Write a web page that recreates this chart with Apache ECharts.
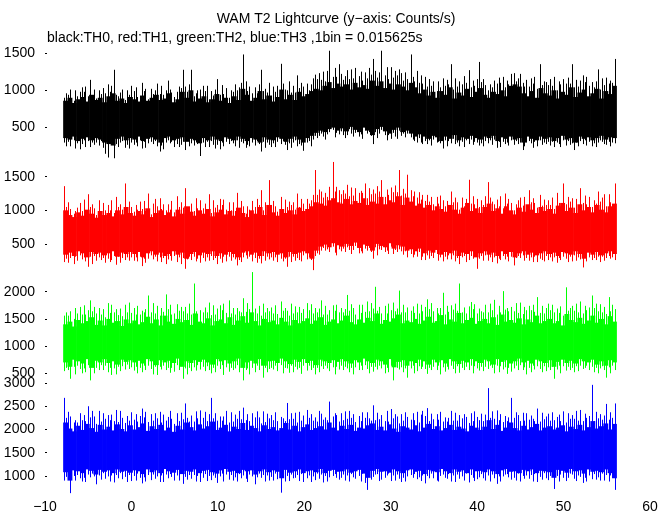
<!DOCTYPE html>
<html><head><meta charset="utf-8">
<script src="https://cdn.jsdelivr.net/npm/echarts@6/dist/echarts.min.js"></script>
<style>html,body{margin:0;padding:0;background:#fff}#c{width:672px;height:515px}</style>
</head><body><div id="c"></div>
<script>
// time of first bin (s) and width of each read bin (s)
const tStart = -7.9;
const binStep = 0.5;
const xTicks = [-10, 0, 10, 20, 30, 40, 50, 60];

// TH0 (black): per bin two spike highs / lows and solid-band top / bottom (counts/s)
const th0High = [900,1010,860,980,1040,920,1140,890,1000,960,1080,1275,940,1010,870,1060,
 990,930,1100,880,1020,1090,950,1000,1130,910,980,1275,1050,1275,920,1010,
 1060,880,990,1150,940,1030,900,1080,1000,1480,1120,960,1040,1275,990,1100,
 930,1060,1355,1000,1120,970,1200,1050,1090,1160,1210,1140,1250,1530,1180,1350,
 1220,1270,1150,1300,1190,1240,1160,1420,1260,1530,1200,1310,1170,1280,1230,1150,
 1480,1260,1100,1180,1050,1120,990,1160,1060,1350,1010,1120,1080,1270,1040,1150,
 1380,1070,1000,1130,1090,1180,1040,1220,1230,1220,1100,1050,1160,1020,1350,1110,
 1070,1180,1000,1150,1090,1350,1040,1130,1200,1060,1110,1280,1010,1170,1090,1420];
const th0Low = [300,250,330,210,280,320,240,300,260,150,100,90,280,320,230,300,
 270,330,220,290,310,250,180,300,330,240,280,310,200,290,260,120,
 300,240,320,270,210,310,280,250,330,290,230,300,260,180,310,270,
 240,310,280,200,290,330,250,190,300,340,390,420,380,440,470,410,
 450,400,480,430,380,460,420,280,440,470,400,350,430,460,390,420,
 370,300,360,320,280,340,300,220,330,290,350,250,310,280,340,300,
 260,320,290,340,230,310,280,330,270,300,200,320,290,250,330,280,
 310,240,300,330,260,290,200,320,280,310,250,300,330,270,310,290];
const th0High2 = [960,940,1000,920,980,1050,900,1010,950,1030,980,1060,920,970,1000,940,
 1040,910,990,1020,950,1000,1060,940,1010,970,1050,1030,980,1080,960,1000,
 990,1060,930,1010,1070,950,1000,980,1040,1100,990,1050,960,1080,1020,970,
 1050,980,1090,1010,970,1060,1030,1100,1000,1080,1150,1230,1120,1260,1300,1180,
 1140,1190,1280,1160,1250,1130,1300,1210,1170,1240,1310,1150,1260,1200,1130,1240,
 1180,1120,1200,1090,1150,1060,1120,1040,1140,1080,1160,1050,1190,1100,1130,1060,
 1110,1150,1080,1040,1170,1100,1130,1080,1120,1160,1050,1140,1090,1180,1070,1120,
 1150,1060,1120,1080,1170,1090,1140,1050,1110,1180,1040,1120,1160,1070,1130,1100];
const th0Low2 = [250,310,220,290,330,240,300,270,320,230,300,280,240,300,270,220,
 300,250,310,230,280,320,260,210,290,310,240,270,320,250,300,280,
 240,310,270,220,300,250,320,290,230,310,270,250,320,280,230,300,
 290,240,320,270,230,300,280,260,320,250,360,390,340,410,370,430,
 400,360,420,380,410,350,440,390,360,420,330,400,380,350,420,370,
 340,320,300,280,330,260,310,290,250,320,280,300,240,330,270,310,
 290,250,330,270,310,240,300,260,320,280,250,300,230,310,270,300,
 260,310,280,240,320,270,300,250,330,260,290,240,310,280,250,300];
const th0Top = [860,900,830,880,910,850,940,870,900,840,920,960,860,890,830,910,
 880,850,930,860,900,940,870,890,960,840,880,980,900,1000,850,890,
 920,840,880,950,860,900,830,920,870,1020,940,860,900,990,880,930,
 850,910,1010,880,940,870,980,920,950,990,1020,1000,1060,1110,1030,1090,
 1050,1080,1010,1100,1040,1070,1020,1130,1060,1120,1030,1090,1010,1080,1050,1000,
 1100,1040,960,1010,930,980,900,990,940,1040,890,970,930,1020,910,980,
 1030,940,900,980,950,1000,920,1060,1080,1050,960,920,990,900,1030,960,
 930,1000,890,980,940,1040,910,970,1010,920,960,1020,890,990,950,1060];
const th0Bot = [360,340,380,320,350,370,330,360,340,300,280,260,350,380,330,360,
 340,380,320,350,370,340,300,360,380,330,350,370,310,350,330,290,
 360,330,380,340,320,370,350,330,380,350,320,360,340,300,370,340,
 330,370,350,310,350,380,340,300,360,390,430,460,440,480,500,460,
 490,450,510,470,440,500,460,400,480,510,450,420,470,500,440,460,
 420,380,410,380,350,390,370,320,380,350,400,330,370,350,390,360,
 340,380,360,390,320,370,350,380,340,360,300,380,350,330,380,350,
 370,320,360,390,340,360,300,380,350,370,330,360,390,340,370,360];

// TH1 (red)
const th1High = [1360,1020,950,1110,990,1240,1050,930,1150,1000,1080,960,1200,1010,1400,1050,
 980,1130,1020,1250,940,1060,1180,1000,1090,970,1210,1040,1330,1100,990,1150,
 1030,1240,960,1080,1170,1010,1120,990,1260,1060,950,1140,1050,1300,1000,1450,
 1080,980,1200,1050,1130,1010,1250,1100,1170,1230,1600,1280,1190,1350,1720,1300,
 1240,1380,1210,1330,1260,1400,1180,1310,1250,1450,1200,1340,1270,1600,1220,1530,
 1300,1190,1270,1140,1230,1090,1200,1150,1060,1280,1120,1010,1190,1455,1100,1170,
 1050,1210,1420,1090,1160,1030,1250,1110,1000,1190,1070,1300,1120,1040,1230,1080,
 1150,1020,1260,1400,1090,1180,1040,1330,1110,1200,1050,1280,1130,1060,1240,1400];
const th1Low = [230,290,200,330,270,160,310,250,300,220,280,320,190,290,260,300,
 250,310,170,280,330,240,300,200,270,320,230,290,130,260,310,220,
 290,250,320,200,280,240,310,270,180,300,330,240,290,210,320,270,
 300,230,280,160,310,250,290,330,270,110,320,400,440,380,460,420,
 390,450,410,470,360,430,400,280,450,410,380,460,350,420,390,300,
 350,310,380,260,330,290,350,240,310,270,330,200,300,260,320,130,
 280,330,250,300,210,320,270,310,180,290,330,250,300,230,280,320,
 260,300,220,310,280,240,330,270,150,300,260,310,230,290,320,260];
const th1High2 = [1050,1120,990,1040,1160,1000,1090,1030,960,1110,1000,1150,1050,1090,980,1130,
 1080,1010,1140,990,1100,1170,1020,1090,1010,1140,1050,1120,990,1060,1180,1030,
 1100,990,1150,1040,1080,1160,1000,1120,990,1140,1060,1010,1170,1080,1120,1030,
 1140,1060,1010,1160,1080,1120,1050,1170,1100,1150,1230,1310,1260,1200,1280,1350,
 1300,1250,1340,1220,1290,1260,1330,1240,1360,1280,1310,1230,1370,1270,1320,1250,
 1210,1280,1160,1230,1130,1200,1100,1220,1140,1080,1190,1120,1060,1170,1210,1090,
 1150,1080,1190,1130,1060,1210,1100,1170,1090,1150,1200,1040,1180,1110,1070,1160,
 1080,1190,1110,1050,1200,1130,1170,1060,1220,1090,1150,1100,1190,1240,1120,1080];
const th1Low2 = [280,220,310,250,300,240,200,320,260,290,230,260,310,220,300,250,
 300,240,280,220,270,310,230,290,320,250,300,200,270,310,240,280,
 240,300,260,290,220,310,250,300,260,230,280,310,220,280,250,310,
 250,300,240,280,230,310,260,240,300,260,360,340,400,420,370,330,
 430,380,350,410,390,360,440,380,330,420,400,350,410,380,340,390,
 300,340,260,310,280,320,250,300,270,330,240,290,320,230,280,310,
 320,250,300,230,280,260,310,240,290,320,250,290,230,310,260,240,
 300,240,290,260,230,310,250,300,320,240,290,260,310,250,280,300];
const th1Top = [1000,930,900,970,920,1010,950,890,990,930,960,910,1000,940,1050,960,
 920,990,940,1030,900,960,1000,930,970,910,1010,950,1060,980,920,1000,
 950,1020,910,970,1010,940,990,920,1040,960,900,1000,950,1050,930,1080,
 970,920,1020,960,1000,940,1040,990,1020,1060,1120,1100,1070,1150,1180,1120,
 1100,1170,1090,1140,1110,1180,1080,1130,1100,1200,1090,1150,1120,1210,1080,1190,
 1130,1070,1100,1040,1080,1000,1060,1020,980,1080,1010,950,1040,1110,990,1030,
 960,1050,1100,990,1030,950,1060,1000,940,1040,980,1090,1010,960,1050,990,
 1020,950,1070,1110,990,1040,960,1090,1000,1050,970,1080,1010,970,1060,1100];
const th1Bot = [340,370,320,390,360,300,380,350,370,330,360,390,310,370,350,380,
 350,380,300,360,390,340,370,320,350,390,340,370,280,350,380,330,
 370,350,390,320,360,340,380,350,300,370,390,340,370,320,390,360,
 380,340,360,300,380,350,370,390,360,280,400,460,490,450,510,480,
 460,500,470,520,440,490,470,400,500,470,450,510,430,480,460,400,
 420,390,430,360,400,370,410,340,380,360,400,320,370,350,390,300,
 360,390,340,370,320,390,350,380,300,360,390,340,370,330,360,390,
 350,370,320,380,360,340,390,350,280,370,340,380,330,360,390,350];

// TH2 (green)
const th2High = [1560,1640,1500,1720,1580,1660,1840,1600,1700,1530,1790,1620,1680,1550,1760,1610,
 1700,1580,1650,1930,1620,1740,1560,1950,1680,1600,1770,1640,1720,1580,2150,1660,
 1620,1800,1570,1690,1750,1610,1840,1580,1700,1880,1630,2360,1690,1560,1780,1640,
 1710,1590,1820,1650,1560,1730,1620,1680,1790,1600,1700,1840,1580,1660,1750,1620,
 1700,1940,1650,1580,1760,1630,1820,1690,2090,1600,1740,1660,1800,2020,1620,1710,
 1650,1780,1600,1720,1860,1640,1700,1980,1580,1750,1670,2150,1620,1730,1810,1600,
 1690,1760,1620,1850,1580,2010,1670,1720,1640,1800,1590,1740,1660,1900,1610,1700,
 1780,1620,1690,1560,2080,1740,1650,1820,1600,1710,1930,1640,1770,1590,1900,1680];
const th2Low = [540,400,620,580,500,650,370,600,560,640,520,590,480,630,570,610,
 550,600,520,640,580,470,620,560,600,530,650,400,590,540,610,570,
 620,560,500,640,580,610,530,590,650,370,560,600,520,640,420,580,
 600,540,650,590,510,620,570,640,550,600,480,630,580,540,610,570,
 640,590,520,610,560,650,580,530,620,590,500,640,370,570,610,420,
 590,540,630,580,490,620,560,610,530,640,580,510,600,560,640,590,
 550,620,580,500,640,570,610,530,590,650,560,600,520,630,580,540,
 610,400,570,630,550,600,520,640,580,560,620,500,590,420,610,560];
const th2High2 = [1620,1560,1700,1600,1750,1580,1640,1720,1580,1680,1610,1760,1570,1690,1620,1800,
 1580,1740,1620,1680,1790,1600,1700,1630,1760,1580,1650,1720,1600,1780,1640,1590,
 1710,1620,1750,1580,1660,1780,1600,1700,1640,1620,1790,1680,1600,1740,1620,1700,
 1600,1750,1650,1700,1780,1600,1720,1610,1660,1770,1620,1690,1740,1580,1650,1760,
 1620,1680,1770,1700,1610,1760,1640,1790,1650,1720,1600,1780,1640,1690,1760,1620,
 1730,1610,1760,1640,1680,1790,1600,1700,1740,1630,1780,1650,1710,1600,1680,1770,
 1640,1620,1780,1660,1740,1620,1700,1640,1790,1610,1720,1660,1760,1630,1740,1600,
 1660,1760,1610,1730,1650,1700,1780,1620,1740,1660,1700,1780,1620,1720,1640,1760];
const th2Low2 = [600,560,480,640,590,520,620,500,650,560,600,470,620,540,660,580,
 620,500,640,560,480,620,570,640,510,600,560,630,480,600,550,650,
 540,630,600,520,650,470,600,560,520,630,590,480,640,560,600,520,
 570,640,500,600,640,520,600,490,640,560,600,520,640,590,480,620,
 560,620,600,480,640,560,500,620,570,640,600,520,620,600,520,590,
 640,500,580,620,600,560,640,480,620,570,500,630,560,620,500,630,
 620,540,640,600,520,630,490,600,640,560,610,480,640,570,520,630,
 560,620,640,500,620,560,630,540,600,640,520,600,630,560,500,640];
const th2Top = [1400,1450,1360,1480,1420,1460,1530,1390,1470,1380,1500,1430,1460,1370,1490,1420,
 1470,1400,1440,1540,1420,1490,1380,1560,1450,1410,1500,1440,1480,1390,1600,1450,
 1420,1510,1380,1460,1490,1420,1530,1390,1470,1550,1430,1620,1460,1380,1500,1440,
 1470,1400,1520,1450,1380,1480,1420,1460,1510,1410,1470,1530,1390,1450,1490,1420,
 1470,1560,1440,1400,1490,1430,1520,1460,1600,1410,1480,1450,1510,1580,1420,1470,
 1440,1500,1410,1470,1540,1430,1460,1570,1400,1490,1450,1610,1420,1480,1520,1410,
 1460,1500,1420,1530,1390,1580,1450,1480,1430,1510,1400,1490,1440,1560,1420,1460,
 1500,1420,1460,1380,1590,1480,1440,1520,1410,1470,1560,1430,1500,1400,1550,1450];
const th2Bot = [700,620,750,720,680,760,600,730,700,760,690,720,660,750,710,740,
 700,730,680,760,720,650,740,700,730,690,770,620,720,690,740,710,
 750,700,660,760,720,740,680,720,770,600,700,730,680,760,640,720,
 730,690,770,720,670,750,710,760,690,730,650,750,720,690,740,710,
 760,720,680,740,700,770,720,690,750,720,660,760,610,710,740,640,
 720,690,750,720,660,750,700,740,680,760,720,670,730,700,760,720,
 690,750,720,660,760,710,740,680,720,770,700,730,680,750,720,690,
 740,620,710,750,690,730,680,760,720,700,750,660,720,640,740,700];

// TH3 (blue)
const th3High = [2680,2280,2150,2350,2200,2500,2260,2120,2400,2230,2310,2180,2420,2250,2140,2370,
 2210,2290,2450,2160,2330,2240,2380,2190,2270,2120,2350,2220,2560,2300,2170,2410,
 2250,2330,2680,2190,2280,2400,2150,2320,2230,2470,2200,2350,2260,2130,2390,2240,
 2310,2180,2270,2570,2220,2360,2150,2300,2420,2190,2260,2340,2210,2600,2280,2170,
 2350,2230,2400,2160,2290,2250,2370,2520,2200,2310,2180,2440,2240,2130,2330,2270,
 2210,2380,2150,2290,2460,2220,2330,2170,2260,2400,2190,2310,2240,2140,2350,2270,
 2200,2320,2890,2230,2410,2160,2290,2680,2250,2180,2360,2210,2300,2450,2170,2280,
 2340,2200,2270,2390,2150,2310,2230,2420,2180,2290,2960,2240,2330,2550,2210,2560];
const th3Low = [900,630,1000,950,880,1030,970,820,1010,940,990,860,1020,930,980,890,
 1000,960,840,1020,910,990,870,1030,950,900,1010,830,980,940,1020,870,
 960,1000,910,850,990,1030,920,970,880,1010,940,990,820,960,1020,900,
 980,930,640,1000,890,960,1020,870,950,990,910,1030,860,970,1000,920,
 960,1010,880,940,1000,850,700,980,1030,920,960,890,1010,940,870,990,
 1020,930,970,840,1000,950,900,1030,960,880,1010,940,990,860,1020,930,
 970,900,1010,950,830,990,1030,920,960,880,1000,940,1020,870,980,950,
 910,720,1000,960,890,1030,940,980,850,1010,930,970,900,1020,880,700];
const th3High2 = [2250,2380,2200,2150,2310,2180,2400,2280,2170,2350,2200,2320,2160,2400,2290,2190,
 2330,2170,2260,2380,2190,2350,2150,2320,2400,2230,2180,2360,2250,2170,2390,2240,
 2380,2180,2240,2350,2190,2280,2370,2170,2400,2220,2330,2180,2390,2260,2160,2340,
 2200,2370,2240,2180,2350,2230,2380,2190,2250,2330,2170,2400,2260,2200,2350,2310,
 2200,2390,2250,2330,2180,2370,2240,2190,2360,2220,2400,2170,2330,2280,2190,2370,
 2350,2200,2320,2400,2180,2340,2210,2380,2170,2250,2360,2190,2330,2270,2180,2390,
 2340,2180,2250,2390,2200,2330,2180,2260,2370,2310,2190,2350,2230,2180,2360,2220,
 2190,2370,2320,2180,2350,2230,2400,2190,2340,2250,2180,2380,2210,2300,2370,2250];
const th3Low2 = [980,1040,900,1020,960,870,1050,990,920,1060,880,1010,950,1060,870,1020,
 900,1050,970,880,1030,940,1010,870,1040,980,900,1060,920,1020,880,1000,
 1040,890,1010,960,1050,880,1020,900,1040,950,870,1030,970,1050,880,1010,
 900,1050,1000,880,1030,950,890,1040,1010,870,1050,940,1000,880,1040,960,
 1030,900,1040,970,880,1050,1000,920,1040,890,1010,1050,900,1030,960,880,
 960,1040,890,1010,950,1050,880,1000,940,1040,870,1030,900,1050,960,890,
 1040,950,880,1030,990,880,1040,970,900,1050,940,1010,880,1040,920,1060,
 1000,1040,880,1030,960,1050,890,1010,960,880,1040,920,1050,900,1010,1040];
const th3Top = [2150,2020,1960,2080,1990,2120,2030,1950,2100,2000,2060,1980,2110,2010,1960,2090,
 2000,2050,2130,1970,2070,2010,2100,1980,2040,1950,2080,2000,2150,2050,1980,2110,
 2020,2070,2170,1990,2040,2100,1960,2060,2010,2140,1990,2080,2030,1960,2090,2010,
 2050,1980,2030,2140,2000,2080,1960,2050,2110,1990,2030,2070,2000,2150,2040,1980,
 2080,2010,2100,1970,2040,2020,2090,2130,1990,2060,1980,2110,2020,1950,2070,2040,
 2000,2090,1960,2040,2120,2010,2070,1980,2030,2100,1990,2060,2020,1960,2080,2040,
 1990,2060,2200,2010,2100,1970,2040,2150,2030,1980,2080,2000,2050,2120,1980,2040,
 2070,2000,2040,2090,1960,2060,2010,2100,1980,2050,2180,2020,2070,2130,2000,2120];
const th3Bot = [1080,900,1120,1100,1060,1140,1110,1030,1130,1090,1120,1060,1140,1090,1110,1070,
 1120,1100,1040,1140,1080,1120,1060,1150,1100,1070,1130,1040,1110,1090,1140,1060,
 1110,1130,1080,1050,1120,1150,1090,1110,1060,1130,1100,1120,1030,1100,1140,1080,
 1120,1090,950,1130,1070,1100,1140,1060,1100,1120,1080,1150,1060,1110,1130,1090,
 1100,1140,1070,1100,1130,1050,960,1110,1150,1090,1100,1070,1140,1100,1060,1120,
 1140,1090,1110,1040,1130,1100,1080,1150,1100,1060,1140,1090,1120,1060,1140,1100,
 1110,1080,1140,1100,1040,1120,1150,1090,1100,1060,1130,1100,1140,1060,1110,1100,
 1080,960,1130,1110,1070,1150,1100,1120,1050,1140,1090,1110,1080,1140,1060,950];

// y tick values per panel
const yTicks0 = [500, 1000, 1500];
const yTicks1 = [500, 1000, 1500];
const yTicks2 = [500, 1000, 1500, 2000];
const yTicks3 = [1000, 1500, 2000, 2500, 3000];

function rows(hi, lo, hi2, lo2, top, bot) {
  return hi.map((h, i) => [tStart + i * binStep, lo[i], h, bot[i], top[i], lo2[i], hi2[i]]);
}

const FONT = 'Liberation Sans';
const SPIKE_POS = [0.2, 0.6, 0.4, 0.8, 0.3, 0.7];
const PANEL_H = 112;
// the green panel's lowest label is placed as text (the axis drops it), so it is
// left out of that axis's own label list to avoid drawing it twice
const panels = [
  {top: 47, min: 80, max: 1580, ticks: yTicks0, labels: yTicks0, color: '#000000',
   d: rows(th0High, th0Low, th0High2, th0Low2, th0Top, th0Bot)},
  {top: 159, min: 97, max: 1764, ticks: yTicks1, labels: yTicks1, color: '#ff0000',
   d: rows(th1High, th1Low, th1High2, th1Low2, th1Top, th1Bot)},
  {top: 271, min: 322, max: 2380, ticks: yTicks2, labels: yTicks2.slice(1), color: '#00ff00',
   d: rows(th2High, th2Low, th2High2, th2Low2, th2Top, th2Bot)},
  {top: 383, min: 590, max: 3000, ticks: yTicks3, labels: yTicks3, color: '#0000ff',
   d: rows(th3High, th3Low, th3High2, th3Low2, th3Top, th3Bot)}
];

function makeRender(color) {
  return function (params, api) {
    const t = api.value(0);
    const a = api.coord([t, api.value(4)]);
    const b = api.coord([t + binStep, api.value(3)]);
    const p1 = SPIKE_POS[params.dataIndex % SPIKE_POS.length];
    const p2 = (p1 + 0.45) % 1;
    const x1 = Math.round(api.coord([t + binStep * p1, 0])[0]) + 0.5;
    const x2 = Math.round(api.coord([t + binStep * p2, 0])[0]) + 0.5;
    const y1h = api.coord([t, api.value(2)])[1], y1l = api.coord([t, api.value(1)])[1];
    const y2h = api.coord([t, api.value(6)])[1], y2l = api.coord([t, api.value(5)])[1];
    return {
      type: 'group',
      children: [
        {type: 'rect', shape: {x: a[0], y: a[1], width: b[0] - a[0] + 0.6, height: b[1] - a[1]},
         style: {fill: color}},
        {type: 'line', shape: {x1: x1, y1: y1h, x2: x1, y2: y1l}, style: {stroke: color, lineWidth: 1}},
        {type: 'line', shape: {x1: x2, y1: y2h, x2: x2, y2: y2l}, style: {stroke: color, lineWidth: 1}}
      ]
    };
  };
}

const chart = echarts.init(document.getElementById('c'), null, {renderer: 'canvas'});
chart.setOption({
  animation: false,
  backgroundColor: '#fff',
  textStyle: {fontFamily: FONT},
  title: [
    {text: 'WAM T2 Lightcurve (y\u2212axis: Counts/s)', left: 'center', top: 7,
     textStyle: {fontSize: 14, fontWeight: 'normal', color: '#000', fontFamily: FONT}},
    {text: 'black:TH0, red:TH1, green:TH2, blue:TH3 ,1bin = 0.015625s', left: 42, top: 26,
     textStyle: {fontSize: 14, fontWeight: 'normal', color: '#000', fontFamily: FONT}}
  ],
  grid: panels.map(p => ({left: 45, width: 605, top: p.top, height: PANEL_H,
    containLabel: false, outerBoundsMode: 'none'})),
  xAxis: panels.map((p, k) => ({
    type: 'value', gridIndex: k, min: -10, max: 60, interval: 10,
    axisLine: {show: false, onZero: false}, splitLine: {show: false},
    axisTick: {show: false},
    axisLabel: {show: k === 3, color: '#000', fontSize: 14, margin: 5, fontFamily: FONT,
      customValues: xTicks, showMinLabel: true, showMaxLabel: true,
      formatter: v => (v < 0 ? '\u2212' + Math.abs(v) : String(v))}
  })),
  yAxis: panels.map((p, k) => ({
    type: 'value', gridIndex: k, min: p.min, max: p.max,
    axisLine: {show: false, onZero: false}, splitLine: {show: false},
    axisTick: {show: true, length: 2, inside: true, customValues: p.ticks, lineStyle: {color: '#000'}},
    axisLabel: {color: '#000', fontSize: 14, margin: 10, fontFamily: FONT, customValues: p.labels,
      showMinLabel: true, showMaxLabel: true, hideOverlap: false,
      formatter: v => String(v)}
  })),
  series: panels.map((p, k) => ({
    type: 'custom', xAxisIndex: k, yAxisIndex: k,
    data: p.d,
    encode: {x: 0, y: [1, 2, 3, 4, 5, 6]},
    renderItem: makeRender(p.color),
    clip: true, silent: true
  }))
});

// green panel's lowest tick label, placed where the green axis puts that value
const gx = chart.convertToPixel({xAxisIndex: 2}, -10);
const gy = chart.convertToPixel({yAxisIndex: 2}, yTicks2[0]);
chart.setOption({
  graphic: [{
    type: 'text', x: gx - 10, y: gy, z: 1, silent: true,
    style: {text: String(yTicks2[0]), align: 'right', verticalAlign: 'middle',
      fontSize: 14, fontWeight: 'normal', fontFamily: FONT, fill: '#000'}
  }]
});
</script></body></html>
